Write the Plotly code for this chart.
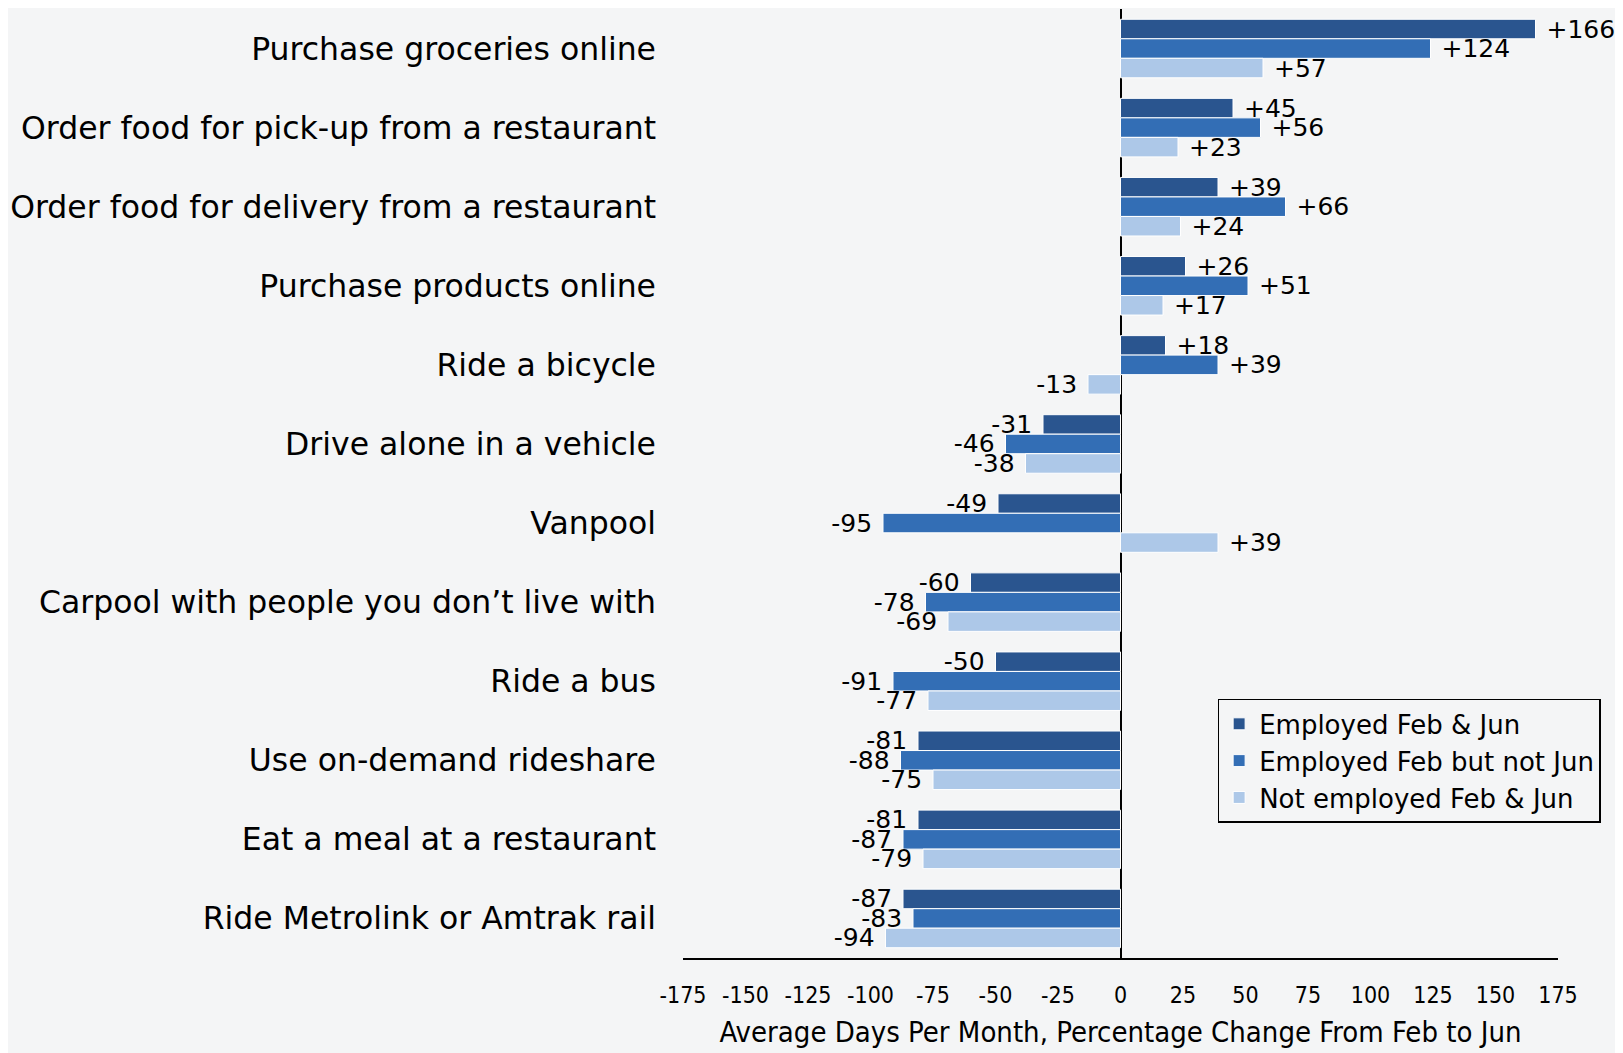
import plotly.graph_objects as go

categories = [
    "Purchase groceries online",
    "Order food for pick-up from a restaurant",
    "Order food for delivery from a restaurant",
    "Purchase products online",
    "Ride a bicycle",
    "Drive alone in a vehicle",
    "Vanpool",
    "Carpool with people you don\u2019t live with",
    "Ride a bus",
    "Use on-demand rideshare",
    "Eat a meal at a restaurant",
    "Ride Metrolink or Amtrak rail",
]

employed_both = [166, 45, 39, 26, 18, -31, -49, -60, -50, -81, -81, -87]
employed_feb_only = [124, 56, 66, 51, 39, -46, -95, -78, -91, -88, -87, -83]
not_employed = [57, 23, 24, 17, -13, -38, 39, -69, -77, -75, -79, -94]

series_names = ["Employed Feb & Jun", "Employed Feb but not Jun", "Not employed Feb & Jun"]
series_colors = ["#2a558f", "#336eb5", "#adc8e8"]
tick_vals = list(range(-175, 176, 25))


def fmt(v):
    # a non-breaking space keeps a small gap between bar end and label
    return "\u00a0+%d" % v if v > 0 else "%d\u00a0" % v


fig = go.Figure()
for name, vals, col in zip(series_names, [employed_both, employed_feb_only, not_employed], series_colors):
    fig.add_trace(go.Bar(
        y=categories,
        x=vals,
        name=name,
        orientation="h",
        marker=dict(color=col, line=dict(color="white", width=1)),
        text=[fmt(v) for v in vals],
        textposition="outside",
        constraintext="none",
        cliponaxis=False,
        textfont=dict(size=25, color="black", family="DejaVu Sans"),
        hoverinfo="x+y+name",
    ))

# the page body adds an 8px margin, so the figure is 8px smaller and margins shifted
fig.update_layout(
    width=1615,
    height=1045,
    barmode="group",
    bargap=0.26,
    bargroupgap=0,
    paper_bgcolor="#f4f5f6",
    plot_bgcolor="rgba(0,0,0,0)",
    margin=dict(l=675, r=65, t=1, b=95),
    font=dict(family="DejaVu Sans", color="black"),
    legend=dict(
        x=0.611, y=0.273, xanchor="left", yanchor="top",
        bordercolor="black", borderwidth=1.5,
        bgcolor="rgba(0,0,0,0)",
        font=dict(size=26, family="DejaVu Sans"),
        itemwidth=30, tracegroupgap=6,
    ),
    showlegend=True,
)

fig.update_xaxes(
    range=[-175, 175],
    tickvals=tick_vals,
    ticktext=[str(v) for v in tick_vals],
    showgrid=False,
    showline=True, linecolor="black", linewidth=1.5,
    zeroline=True, zerolinecolor="black", zerolinewidth=1.5,
    ticks="", ticklabelstandoff=16,
    tickfont=dict(size=23, family="DejaVu Sans Condensed, Liberation Sans Narrow"),
    title=dict(text="Average Days Per Month, Percentage Change From Feb to Jun",
               font=dict(size=29, family="DejaVu Sans Condensed, Liberation Sans Narrow"),
               standoff=14),
)

fig.update_yaxes(
    autorange="reversed",
    showgrid=False,
    showline=False,
    ticks="",
    ticklabelstandoff=26,
    tickfont=dict(size=31.5, family="DejaVu Sans"),
)

fig.write_html("out.html")
